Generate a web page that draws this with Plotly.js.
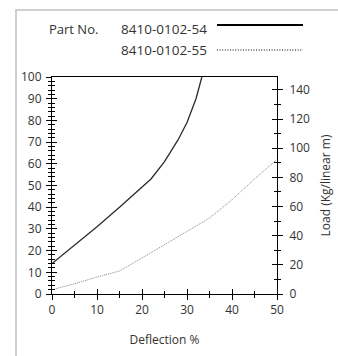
<!DOCTYPE html>
<html>
<head>
<meta charset="utf-8">
<script src="https://cdn.plot.ly/plotly-3.0.1.min.js"></script>
<style>html,body{margin:0;padding:0;background:#fff;}#chart{width:338px;height:356px;}</style>
</head>
<body>
<div id="chart"></div>
<script>
// Data
const deflection54 = [0, 5, 10, 15, 20, 22, 25, 28, 30, 32, 33.3];
const load54 = [14, 22.5, 31, 40, 49, 53, 61, 71, 79, 90, 100];
const deflection55 = [0, 5, 10, 15, 20, 25, 30, 35, 40, 45, 50];
const load55 = [2, 4.7, 7.8, 10.6, 16.6, 22.7, 29, 35, 43.5, 53, 62];
const partLabel = "Part No.";
const seriesNames = ["8410-0102-54", "8410-0102-55"];
const xTitle = "Deflection %";
const rightTitle = "Load (Kg/linear m)";

// Layout geometry (pixels)
const W = 338, H = 356;
const M = {l: 52, r: 61, t: 77, b: 62};
const pw = W - M.l - M.r, ph = H - M.t - M.b;
const px = x => (x - M.l) / pw;
const py = y => (H - M.b - y) / ph;

const font = {family: "Open Sans, sans-serif", size: 12, color: "#333"};
const tickCol = "#000";

const traces = [
  {x: deflection54, y: load54, type: "scatter", mode: "lines", name: seriesNames[0],
   line: {color: "#2a2a2a", width: 1.3}, xaxis: "x", yaxis: "y"},
  {x: deflection55, y: load55, type: "scatter", mode: "lines", name: seriesNames[1],
   line: {color: "#888", width: 1, dash: "1px,1px"}, xaxis: "x", yaxis: "y"},
  {x: [], y: [], xaxis: "x2", yaxis: "y", hoverinfo: "skip"},
  {x: [], y: [], xaxis: "x", yaxis: "y2", hoverinfo: "skip"},
  {x: [], y: [], xaxis: "x", yaxis: "y3", hoverinfo: "skip"},
  {x: [], y: [], xaxis: "x", yaxis: "y4", hoverinfo: "skip"}
];

const baseAx = {showgrid: false, zeroline: false, showline: true, linecolor: "#000", linewidth: 1,
  tickcolor: tickCol, tickwidth: 1, tickfont: font, fixedrange: true};

const layout = {
  width: W, height: H,
  margin: M,
  paper_bgcolor: "#fff", plot_bgcolor: "#fff",
  showlegend: false,
  font: font,
  xaxis: Object.assign({}, baseAx, {range: [0, 50], dtick: 10, tick0: 0, ticks: "outside", ticklen: 5,
    minor: {dtick: 5, ticks: "outside", ticklen: 3, tickcolor: tickCol},
    mirror: true, anchor: "y",
    title: {text: xTitle, font: font, standoff: 18}}),
  xaxis2: Object.assign({}, baseAx, {range: [0, 50], dtick: 10, tick0: 0, ticks: "inside", ticklen: 5,
    minor: {dtick: 5, ticks: "inside", ticklen: 3, tickcolor: tickCol},
    overlaying: "x", anchor: "y", side: "bottom", showticklabels: false}),
  yaxis: Object.assign({}, baseAx, {range: [0, 100], dtick: 10, tick0: 0, ticks: "outside", ticklen: 5,
    minor: {dtick: 2, ticks: "outside", ticklen: 3, tickcolor: tickCol},
    anchor: "x", side: "left", ticklabelstandoff: 2}),
  yaxis3: Object.assign({}, baseAx, {range: [0, 100], dtick: 10, tick0: 0, ticks: "inside", ticklen: 5,
    minor: {dtick: 2, ticks: "inside", ticklen: 3, tickcolor: tickCol},
    overlaying: "y", anchor: "x", side: "left", showticklabels: false}),
  yaxis2: Object.assign({}, baseAx, {range: [0, 148.8], dtick: 20, tick0: 0, ticks: "outside", ticklen: 5,
    minor: {dtick: 10, ticks: "outside", ticklen: 3, tickcolor: tickCol},
    overlaying: "y", anchor: "x", side: "right", ticklabelstandoff: 4,
    title: {text: rightTitle, font: font, standoff: 12}}),
  yaxis4: Object.assign({}, baseAx, {range: [0, 148.8], dtick: 20, tick0: 0, ticks: "inside", ticklen: 5,
    minor: {dtick: 10, ticks: "inside", ticklen: 3, tickcolor: tickCol},
    overlaying: "y", anchor: "x", side: "right", showticklabels: false}),
  shapes: [
    {type: "rect", xref: "paper", yref: "paper", x0: px(16), x1: px(345), y0: py(365), y1: py(10),
     line: {color: "#cfcfcf", width: 2}, layer: "below"},
    {type: "line", xref: "paper", yref: "paper", x0: px(217), x1: px(303), y0: py(25), y1: py(25),
     line: {color: "#000", width: 2}},
    {type: "line", xref: "paper", yref: "paper", x0: px(217), x1: px(303), y0: py(50), y1: py(50),
     line: {color: "#000", width: 1, dash: "1px,1.6px"}}
  ],
  annotations: [
    {text: partLabel, xref: "paper", yref: "paper", x: px(47), y: py(29), xanchor: "left", yanchor: "middle",
     showarrow: false, font: {family: font.family, size: 13, color: "#333"}},
    {text: seriesNames[0], xref: "paper", yref: "paper", x: px(119), y: py(29), xanchor: "left", yanchor: "middle",
     showarrow: false, font: {family: font.family, size: 13.5, color: "#333"}},
    {text: seriesNames[1], xref: "paper", yref: "paper", x: px(119), y: py(50), xanchor: "left", yanchor: "middle",
     showarrow: false, font: {family: font.family, size: 13.5, color: "#333"}}
  ]
};

Plotly.newPlot("chart", traces, layout, {staticPlot: true, displayModeBar: false});
</script>
</body>
</html>
